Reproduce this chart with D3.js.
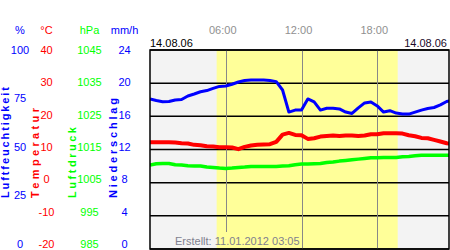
<!DOCTYPE html>
<html>
<head>
<meta charset="utf-8">
<script src="https://cdn.jsdelivr.net/npm/d3@7"></script>
<style>
  body { margin: 0; background: #fff; }
  svg { display: block; font-family: "Liberation Sans", Arial, sans-serif; }
</style>
</head>
<body>
<svg id="svg" width="450" height="250"></svg>
<script>
// half-hourly readings, 14.08.06
const hours = d3.range(0, 24.01, 0.5);
const humidity = [75.4, 74.6, 74.0, 74.1, 74.9, 75.1, 76.9, 77.9, 79.0, 79.6, 80.7, 81.7,
  81.9, 82.8, 83.9, 84.7, 84.9, 84.9, 84.9, 84.7, 84.1, 79.9, 68.8, 69.8,
  69.8, 75.4, 73.9, 69.8, 70.7, 70.7, 70.4, 68.8, 68.1, 70.9, 73.4, 73.9,
  71.9, 68.8, 69.5, 68.3, 67.8, 67.8, 68.8, 69.8, 70.6, 71.1, 72.4, 74.1, 74.9];
const temperature = [12.2, 12.2, 12.2, 12.2, 12.1, 11.9, 11.8, 11.4, 11.3, 11.0, 10.9, 10.7,
  10.7, 10.6, 10.1, 10.8, 11.2, 11.4, 11.5, 11.6, 12.3, 14.5, 15.0, 14.4,
  14.3, 13.2, 13.4, 13.9, 14.1, 14.2, 14.1, 14.2, 14.2, 14.1, 14.2, 14.6,
  14.6, 14.9, 14.9, 14.9, 14.8, 14.3, 14.0, 13.5, 13.4, 12.9, 12.4, 11.9, 11.7];
const pressure = [1010.3, 1010.7, 1010.8, 1010.8, 1010.4, 1010.3, 1010.1, 1010.0, 1010.0, 1009.7, 1009.6, 1009.4,
  1009.3, 1009.4, 1009.6, 1009.7, 1009.9, 1009.9, 1009.9, 1009.9, 1009.9, 1010.0, 1010.1, 1010.4,
  1010.6, 1010.6, 1010.7, 1010.8, 1011.1, 1011.2, 1011.5, 1011.7, 1011.9, 1012.1, 1012.3, 1012.5,
  1012.5, 1012.6, 1012.6, 1012.6, 1012.8, 1012.9, 1013.1, 1013.3, 1013.3, 1013.3, 1013.3, 1013.3, 1013.3];

const daylight = [5.28, 19.62];           // sunrise / sunset in hours
const timeTicks = [6, 12, 18];
const timeLabels = ["06:00", "12:00", "18:00"];
const dateLabel = "14.08.06";
const created = "Erstellt: 11.01.2012 03:05";

const humTicks = [100, 75, 50, 25, 0];
const tempTicks = [40, 30, 20, 10, 0, -10, -20];
const presTicks = [1045, 1035, 1025, 1015, 1005, 995, 985];
const rainTicks = [24, 20, 16, 12, 8, 4, 0];

const svg = d3.select("#svg");
const pL = 150, pR = 449, pT = 50, pB = 249;

const x = d3.scaleLinear().domain([0, 24]).range([150, 453]);
const yTemp = d3.scaleLinear().domain([-20, 40]).range([pB, pT]);
const yHum = d3.scaleLinear().domain([0, 100]).range([pB, pT]);
const yPres = d3.scaleLinear().domain([985, 1045]).range([pB, pT]);
// the labels on the left sit on a slightly shorter span than the grid
const lHum = d3.scaleLinear().domain([0, 100]).range([244, 50]);
const lTemp = d3.scaleLinear().domain([-20, 40]).range([244, 50]);
const lPres = d3.scaleLinear().domain([985, 1045]).range([244, 50]);
const lRain = d3.scaleLinear().domain([0, 24]).range([244, 50]);

svg.append("defs").append("clipPath").attr("id", "clip")
  .append("rect").attr("x", pL).attr("y", pT).attr("width", pR - pL).attr("height", pB - pT);

// plot background + daylight band
svg.append("rect").attr("x", pL).attr("y", pT).attr("width", pR - pL).attr("height", pB - pT)
  .attr("fill", "#f3f3f3");
svg.append("rect").attr("x", x(daylight[0])).attr("y", pT)
  .attr("width", x(daylight[1]) - x(daylight[0])).attr("height", pB - pT)
  .attr("fill", "#ffff99");

// horizontal grid
svg.append("g").selectAll("line").data(tempTicks).enter().append("line")
  .attr("x1", pL).attr("x2", pR)
  .attr("y1", d => yTemp(d)).attr("y2", d => yTemp(d))
  .attr("stroke", "#000").attr("stroke-width", 1.5);

// vertical hour lines (cut short where the footer text sits)
svg.append("g").selectAll("line").data(timeTicks).enter().append("line")
  .attr("x1", d => Math.round(x(d)) + 0.5).attr("x2", d => Math.round(x(d)) + 0.5)
  .attr("y1", pT).attr("y2", d => (x(d) > 175 && x(d) < 296) ? 232 : pB)
  .attr("stroke", "#888").attr("stroke-width", 1);

// series
const plot = svg.append("g").attr("clip-path", "url(#clip)");
function drawLine(values, scale, color, width) {
  const line = d3.line().x((d, i) => x(hours[i])).y(d => scale(d));
  plot.append("path").datum(values).attr("d", line)
    .attr("fill", "none").attr("stroke", color).attr("stroke-width", width)
    .attr("stroke-linejoin", "round");
}
drawLine(pressure, yPres, "#00ff00", 3.5);
drawLine(temperature, yTemp, "#ff0000", 4);
drawLine(humidity, yHum, "#0000ff", 3);

// frame
svg.append("rect").attr("x", pL).attr("y", pT).attr("width", pR - pL).attr("height", pB - pT)
  .attr("fill", "none").attr("stroke", "#000").attr("stroke-width", 1.5);

// footer
svg.append("text").attr("x", 175).attr("y", 245).attr("font-size", 11)
  .attr("fill", "#7f7f8f").text(created);

// top labels
svg.selectAll(".tl").data(timeTicks).enter().append("text")
  .attr("x", d => x(d) - 3).attr("y", 34).attr("text-anchor", "middle")
  .attr("font-size", 11).attr("fill", "#909090").text((d, i) => timeLabels[i]);
svg.append("text").attr("x", 150).attr("y", 46.5).attr("font-size", 11).attr("fill", "#000").text(dateLabel);
svg.append("text").attr("x", 447).attr("y", 46.5).attr("font-size", 11).attr("text-anchor", "end")
  .attr("fill", "#1a0a2a").text(dateLabel);

// left axes
const axes = [
  { unit: "%", cx: 20, color: "#0000ff", ticks: humTicks, scale: lHum, title: "Luftfeuchtigkeit", tx: 9, tl: 111 },
  { unit: "°C", cx: 46.5, color: "#ff0000", ticks: tempTicks, scale: lTemp, title: "Temperatur", tx: 39, tl: 90 },
  { unit: "hPa", cx: 89.5, color: "#00ff00", ticks: presTicks, scale: lPres, title: "Luftdruck", tx: 76, tl: 71 },
  { unit: "mm/h", cx: 124.5, color: "#0000ff", ticks: rainTicks, scale: lRain, title: "Niederschlag", tx: 117, tl: 100 }
];
axes.forEach(a => {
  const g = svg.append("g").attr("fill", a.color).attr("font-size", 11).attr("text-anchor", "middle");
  g.append("text").attr("x", a.cx).attr("y", 34).text(a.unit);
  g.selectAll(".tick").data(a.ticks).enter().append("text")
    .attr("x", a.cx).attr("y", d => a.scale(d)).attr("dy", "0.35em").text(d => d);
  g.append("text").attr("transform", `translate(${a.tx},198) rotate(-90)`)
    .attr("text-anchor", "start").attr("font-weight", "bold").attr("font-size", 11)
    .attr("textLength", a.tl).attr("lengthAdjust", "spacing").text(a.title);
});
</script>
</body>
</html>
